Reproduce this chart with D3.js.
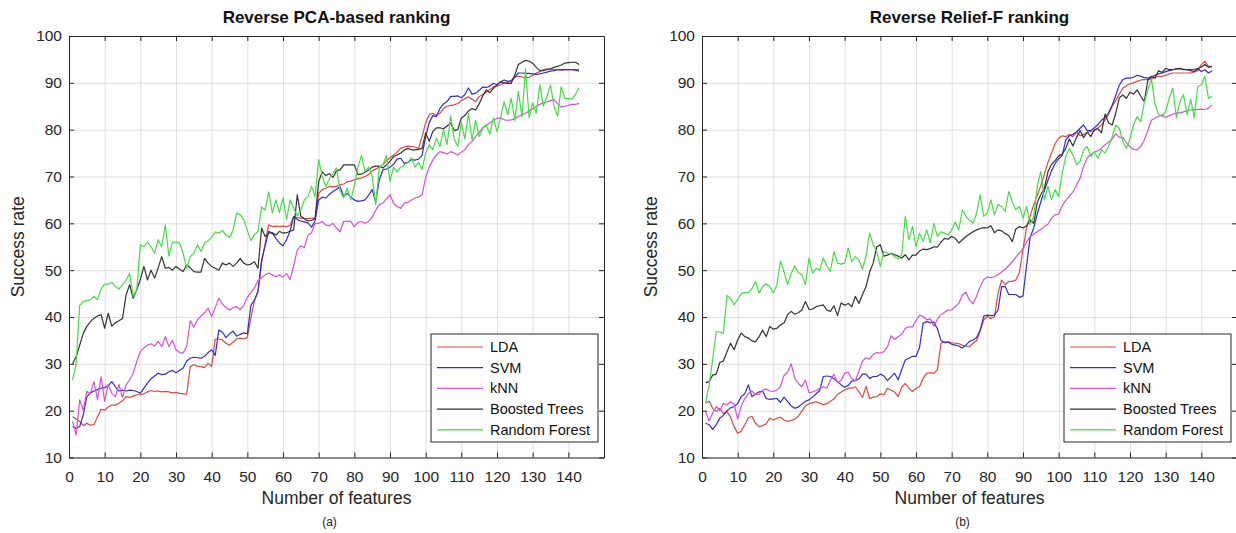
<!DOCTYPE html>
<html>
<head>
<meta charset="utf-8">
<script src="https://cdn.jsdelivr.net/npm/d3@7"></script>
<style>
  html, body { margin: 0; padding: 0; background: #ffffff; }
  svg { display: block; font-family: "Liberation Sans", Arial, Helvetica, sans-serif; }
</style>
</head>
<body>
<svg id="chart" width="1236" height="533"></svg>
<script>
// Number of features used (1..143)
const featureCounts = d3.range(1, 144);
const xTickValues = d3.range(0, 141, 10);
const yTickValues = d3.range(10, 101, 10);
const seriesNames = ["LDA", "SVM", "kNN", "Boosted Trees", "Random Forest"];
const seriesColors = ["#e2463c", "#2e2ed4", "#d84fd8", "#333333", "#45dc45"];

// Success rate (%) — reverse PCA-based ranking
const pcaLDA = [
  18.7, 18.2, 17.7, 16.8, 17.3, 16.9, 17.0, 18.7, 20.3, 20.1,
  20.8, 21.2, 21.2, 21.6, 22.1, 23.0, 22.8, 23.1, 23.4, 23.4,
  23.6, 24.0, 24.3, 24.1, 24.2, 24.0, 24.1, 24.0, 23.8, 23.9,
  23.7, 23.6, 23.5, 29.4, 29.8, 29.5, 29.4, 29.2, 30.1, 29.5,
  35.3, 35.3, 35.1, 34.4, 34.0, 34.6, 35.3, 35.5, 35.3, 35.6,
  39.8, 43.5, 45.5, 51.5, 55.8, 59.7, 59.3, 59.4, 59.3, 59.4,
  59.3, 59.6, 61.4, 61.2, 61.1, 61.0, 61.0, 61.1, 61.1, 66.4,
  67.2, 67.5, 67.9, 67.8, 67.9, 68.2, 68.4, 68.9, 69.0, 69.3,
  69.5, 69.7, 70.0, 70.4, 71.2, 71.6, 72.0, 72.5, 73.4, 74.0,
  74.6, 75.2, 76.0, 76.3, 76.5, 76.4, 76.3, 76.0, 78.5, 81.5,
  83.2, 83.5, 83.0, 83.5, 84.5, 85.0, 85.2, 85.3, 85.6, 86.2,
  86.6, 87.0, 86.5, 86.0, 87.1, 87.5, 88.0, 88.6, 89.1, 89.3,
  89.6, 90.0, 90.1, 90.3, 91.2, 91.4, 91.3, 91.0, 91.2, 91.6,
  92.1, 92.4, 92.8, 93.0, 92.9, 92.8, 92.8, 92.7, 92.8, 92.8,
  92.8, 92.8, 92.8
];
const pcaSVM = [
  16.6, 16.2, 16.6, 19.1, 23.0, 23.8, 24.2, 24.5, 24.8, 24.9,
  25.3, 26.2, 25.1, 24.2, 24.4, 24.2, 24.4, 24.3, 24.1, 23.7,
  24.8, 25.9, 26.8, 27.4, 28.0, 27.7, 27.8, 28.3, 28.6, 28.1,
  28.6, 29.1, 30.6, 31.2, 31.4, 31.3, 31.2, 31.6, 32.4, 33.0,
  31.8, 37.2, 36.8, 35.6, 36.4, 37.0, 35.9, 36.3, 36.6, 36.4,
  42.5, 43.6, 45.5, 52.2, 55.2, 58.3, 57.9, 56.8, 55.8, 55.2,
  56.5, 58.4, 61.5, 60.8, 60.5, 60.3, 60.1, 59.2, 60.5, 65.0,
  65.6, 65.4, 66.2, 66.8, 67.3, 67.8, 65.8, 66.4, 65.6, 65.0,
  64.7, 64.8, 65.0, 66.0, 67.2, 64.5, 69.3, 71.4, 71.6, 72.0,
  72.6, 73.7, 73.9, 72.8, 73.0, 73.6, 73.5, 73.7, 74.5, 78.5,
  81.5, 83.0, 82.8, 84.5, 85.5, 86.0, 87.1, 87.1, 87.2, 86.8,
  87.5, 88.9, 87.6, 87.8, 88.4, 89.1, 89.0, 89.3, 89.9, 89.6,
  90.2, 90.6, 90.3, 90.5, 91.2, 92.1, 92.1, 92.0, 92.0, 91.9,
  91.8, 91.9, 92.1, 92.3, 92.5, 92.6, 92.8, 92.8, 92.8, 92.8,
  92.8, 92.7, 92.5
];
const pcaKNN = [
  17.7, 14.8, 22.3, 20.1, 24.1, 23.7, 26.2, 22.3, 27.2, 22.0,
  25.6, 23.7, 23.0, 25.6, 22.8, 25.5, 26.6, 28.0, 30.5, 32.6,
  33.4, 34.0, 34.3, 33.8, 34.8, 33.7, 35.8, 33.7, 35.0, 33.0,
  32.4, 32.3, 33.7, 39.2, 37.8, 39.4, 40.2, 40.9, 41.9, 40.1,
  42.0, 44.0, 42.8, 42.0, 41.5, 42.0, 42.2, 41.6, 42.5, 44.2,
  45.2, 46.2, 47.8, 48.4, 49.0, 49.4, 49.0, 48.6, 49.0, 48.5,
  49.3, 48.0, 51.0, 54.3, 55.2, 54.8, 57.5, 58.0, 60.0, 60.0,
  60.4, 59.6, 59.5, 60.0, 59.0, 58.2, 60.4, 60.4, 60.4, 59.3,
  60.2, 60.4, 60.0, 60.4, 61.3, 62.8, 64.0, 64.3, 65.2, 66.1,
  64.3, 63.6, 63.2, 64.3, 64.5, 65.0, 65.4, 65.6, 66.1, 69.8,
  72.0, 73.5, 74.6, 75.3, 75.1, 74.8, 75.3, 75.0, 74.6, 75.2,
  75.7, 76.8, 77.5, 78.5, 79.4, 80.4, 81.0, 81.4, 82.0, 82.4,
  82.5, 82.1, 82.0, 82.1, 82.3, 82.8, 83.2, 83.5, 84.0, 84.4,
  85.0, 85.4, 85.7, 85.9, 86.2, 86.4, 85.5, 84.8, 85.0, 85.2,
  85.4, 85.4, 85.6
];
const pcaBoosted = [
  30.0, 31.5, 34.0, 36.5, 38.0, 39.0, 39.7, 40.2, 40.5, 37.6,
  40.8, 38.0, 38.8, 39.2, 39.7, 44.7, 46.9, 44.0, 45.8, 48.0,
  50.8, 47.9, 50.0, 48.3, 50.5, 52.9, 50.4, 50.6, 50.0, 50.8,
  50.2, 49.7, 51.1, 50.5, 49.7, 49.6, 49.6, 52.5, 51.5, 50.8,
  50.4, 50.0, 51.5, 51.1, 51.5, 50.8, 51.5, 52.5, 51.5, 51.1,
  51.3, 51.8, 50.4, 59.0, 57.2, 57.9, 58.0, 57.5, 58.3, 57.9,
  58.0, 58.3, 58.6, 66.1, 61.5, 61.0, 60.5, 60.6, 61.0, 68.9,
  71.0, 70.2, 70.6, 69.8, 71.2, 71.4, 72.5, 72.5, 72.5, 72.5,
  70.4, 70.5, 70.9, 71.4, 72.0, 72.2, 72.2, 71.8, 72.5, 73.3,
  74.2, 74.6, 75.0, 75.6, 76.0, 75.7, 75.7, 75.8, 76.0, 79.3,
  77.5, 79.6, 80.4, 80.4, 80.2, 80.8, 81.4, 79.8, 80.0, 82.5,
  83.0, 84.0, 84.5, 84.2, 85.5, 87.2, 88.5, 87.9, 88.8, 89.6,
  90.2, 90.0, 89.9, 89.9, 91.7, 93.9, 94.4, 94.8, 94.6, 94.2,
  93.3, 92.6, 92.6, 92.8, 93.0, 93.3, 93.5, 93.8, 94.2, 94.3,
  94.4, 94.4, 93.9
];
const pcaForest = [
  26.5, 30.0, 42.5, 43.3, 43.5, 43.7, 44.4, 43.7, 46.0, 47.0,
  47.0, 47.4, 46.5, 46.0, 46.9, 47.9, 49.3, 44.4, 45.8, 55.4,
  55.0, 56.0, 55.0, 53.6, 56.5, 55.0, 59.7, 53.0, 56.0, 56.0,
  55.8, 53.6, 50.4, 52.9, 53.6, 55.4, 54.0, 55.8, 56.3, 57.0,
  58.2, 57.9, 58.5, 57.5, 57.0, 58.5, 62.2, 61.8, 60.8, 58.5,
  56.3, 57.6, 58.3, 63.5, 62.8, 66.7, 62.2, 65.0, 62.3, 65.5,
  60.8, 65.0, 63.2, 61.6, 62.8, 65.0, 65.7, 67.9, 65.7, 73.6,
  70.0, 67.9, 69.5, 70.7, 71.8, 67.0, 65.4, 67.5, 65.0, 68.0,
  72.0, 74.5, 71.0, 72.0, 70.0, 64.0, 72.0, 72.5, 74.5, 69.0,
  72.0, 71.0, 72.0, 72.5, 73.0, 74.0, 72.0, 73.0, 71.5, 75.0,
  76.8, 75.7, 78.2, 76.4, 80.0, 76.8, 83.0, 78.0, 76.4, 81.5,
  78.0, 83.5, 77.8, 82.0, 78.5, 80.3, 81.0, 79.0, 82.5, 79.6,
  82.5, 86.0, 83.2, 86.7, 82.0, 88.2, 82.8, 93.0, 82.5, 85.7,
  83.5, 89.6, 85.0, 87.1, 89.5, 85.0, 82.8, 89.2, 86.7, 86.7,
  86.5, 87.5, 89.0
];

// Success rate (%) — reverse Relief-F ranking
const reliefLDA = [
  21.6, 22.0, 20.5, 19.8, 20.5, 19.4, 19.8, 18.6, 16.6, 15.2,
  15.6, 17.0, 18.5, 18.8, 17.3, 16.6, 16.8, 17.2, 18.4, 18.0,
  18.4, 18.6, 18.0, 17.7, 17.9, 18.2, 18.8, 19.9, 21.0, 21.5,
  21.7, 21.9, 21.6, 21.3, 21.5, 22.0, 22.5, 23.5, 24.0, 24.4,
  24.8, 24.8, 25.1, 24.0, 22.8, 25.2, 22.6, 22.9, 23.0, 23.6,
  23.4, 24.8, 24.4, 24.0, 23.0, 25.0, 25.8, 24.8, 24.1, 24.8,
  25.1, 26.9, 28.0, 28.1, 28.0, 28.7, 34.4, 34.7, 34.7, 34.5,
  34.4, 34.3, 34.0, 33.8, 33.7, 34.4, 35.0, 37.0, 39.4, 40.1,
  39.7, 40.1, 45.0, 47.9, 46.9, 47.6, 47.6, 47.9, 49.5, 54.5,
  59.0, 61.5, 64.0, 66.0, 68.0, 70.5, 73.0, 75.0, 77.0, 78.2,
  78.7, 78.5, 79.0, 78.5, 79.5, 78.7, 79.0, 79.4, 79.6, 79.8,
  80.4, 81.0, 82.0, 83.3, 85.0, 86.2, 87.6, 88.9, 89.4, 89.8,
  90.0, 90.3, 90.6, 90.7, 90.7, 90.9, 91.2, 91.4, 91.4, 91.6,
  91.9, 92.1, 92.1, 92.1, 92.1, 92.1, 92.1, 92.3, 92.6, 93.9,
  94.6, 93.5, 93.5
];
const reliefSVM = [
  17.3, 17.0, 16.0, 17.0, 18.4, 19.0, 20.0, 20.6, 20.9, 21.5,
  23.0, 23.6, 25.5, 23.0, 23.5, 24.0, 24.2, 22.6, 22.4, 22.5,
  22.6, 21.8, 22.9, 22.0, 21.0, 20.5, 20.8, 21.4, 22.0, 22.3,
  22.9, 23.6, 24.3, 27.3, 27.4, 27.3, 26.8, 26.2, 25.5, 25.0,
  25.4, 26.3, 26.4, 26.8, 27.8, 27.8, 26.9, 27.3, 27.3, 27.8,
  27.4, 26.4, 27.2, 28.0, 26.6, 28.8, 30.8, 31.2, 31.6, 31.6,
  33.5, 38.7, 39.0, 38.8, 38.9, 37.5, 35.0, 34.5, 34.6, 34.2,
  34.0, 33.8, 33.4, 34.0, 34.8, 35.1, 35.6, 37.2, 40.2, 40.4,
  40.3, 40.4, 41.5, 46.5, 46.5, 44.8, 44.8, 44.8, 44.2, 44.5,
  51.0, 57.0, 59.0, 62.0, 64.6, 67.0, 69.2, 71.2, 72.8, 73.8,
  74.5, 77.8, 78.7, 79.0, 79.5, 80.3, 81.0, 79.8, 79.8, 80.4,
  81.1, 82.0, 82.6, 83.6, 85.2, 87.3, 89.5, 90.7, 91.0, 91.0,
  91.2, 91.6, 91.4, 91.1, 91.0, 91.3, 91.6, 91.9, 92.1, 92.4,
  92.6, 92.8, 93.0, 93.0, 92.9, 92.8, 92.8, 92.9, 93.0, 92.4,
  92.8, 92.1, 92.6
];
const reliefKNN = [
  19.8, 17.8, 19.5, 20.9, 20.0, 21.5, 21.2, 21.9, 21.4, 18.2,
  21.0, 22.6, 23.6, 24.2, 23.4, 23.4, 24.4, 24.6, 24.2, 24.1,
  24.4, 25.2, 27.5, 28.2, 30.0, 27.0, 25.8, 25.1, 26.5, 23.8,
  24.0, 24.3, 24.8, 25.1, 24.8, 26.5, 27.8, 26.0, 26.5, 28.0,
  28.2, 26.8, 26.4, 28.5, 30.6, 31.3, 31.0, 32.0, 32.4, 32.3,
  32.6, 33.6, 36.0, 35.2, 35.8, 36.3, 37.6, 37.9, 37.9, 39.2,
  40.4, 40.1, 39.4, 39.6, 38.0, 39.5, 40.5, 41.0, 41.5, 41.5,
  42.2, 42.9, 44.7, 45.3, 43.6, 42.8, 44.5, 46.5, 48.0, 48.5,
  48.4, 48.6, 49.1, 49.6, 50.2, 51.0, 51.8, 52.8, 53.7, 54.5,
  56.0, 57.2, 57.7, 58.2, 58.7, 59.3, 59.8, 61.1, 61.8, 62.0,
  63.8, 64.9, 65.8, 66.7, 68.2, 69.6, 72.2, 74.0, 74.7, 75.2,
  75.5, 76.0, 76.8, 77.3, 78.0, 79.1, 78.4, 78.3, 77.2, 76.3,
  75.8, 75.7, 76.4, 77.8, 79.8, 82.0, 82.5, 82.8, 83.2, 82.6,
  83.0, 83.3, 83.6, 83.6, 83.8, 84.0, 84.2, 84.3, 84.3, 84.4,
  84.3, 84.6, 85.2
];
const reliefBoosted = [
  26.0, 26.2, 27.6, 27.8, 30.3, 30.6, 32.6, 34.4, 33.0, 35.1,
  36.6, 35.8, 35.5, 34.9, 34.7, 35.8, 37.2, 35.8, 38.0, 37.4,
  37.6, 38.3, 38.7, 40.5, 41.2, 40.6, 40.9, 41.5, 43.3, 41.6,
  41.7, 42.2, 42.4, 42.6, 41.5, 41.2, 42.4, 40.3, 43.0, 42.5,
  42.9, 42.2, 44.4, 42.9, 44.8, 46.5, 49.6, 51.5, 55.0, 55.4,
  53.0, 53.2, 53.6, 53.3, 53.0, 52.6, 53.3, 52.2, 53.2, 53.2,
  54.1, 54.5, 54.4, 54.6, 55.0, 54.9, 56.0, 56.8, 56.6, 57.2,
  56.8, 55.8, 56.5, 57.2, 57.7, 58.2, 58.6, 58.9, 59.1, 59.0,
  59.5, 58.0, 58.6, 58.4, 57.8, 57.4, 56.1, 58.8, 59.3, 59.0,
  59.5, 60.7, 60.0, 64.5, 66.1, 67.5, 71.0, 72.6, 73.4, 74.4,
  74.8, 76.0, 78.0, 76.5, 78.3, 79.8, 78.3, 79.5, 78.5, 80.0,
  80.2, 79.3, 83.3, 81.5, 81.0, 83.5, 86.8, 87.4, 86.7, 88.0,
  87.6, 88.5, 87.2, 86.0, 90.5, 91.4, 91.0, 92.6, 92.2, 93.1,
  92.8, 92.8, 93.0, 93.1, 92.8, 92.8, 92.6, 92.4, 93.0, 93.4,
  93.9, 93.3, 93.5
];
const reliefForest = [
  21.6, 25.5, 31.0, 36.9, 36.8, 36.5, 44.6, 44.0, 42.6, 43.8,
  45.0, 45.2, 45.2, 46.1, 47.6, 45.1, 46.5, 47.1, 46.5, 45.1,
  46.9, 52.0, 49.7, 46.9, 49.3, 50.9, 49.5, 49.0, 46.9, 52.6,
  49.3, 50.4, 50.0, 52.6, 51.0, 49.7, 54.0, 51.5, 51.3, 51.5,
  54.7, 51.8, 52.9, 52.2, 50.2, 53.0, 57.9, 55.4, 54.0, 50.8,
  54.0, 53.6, 53.5, 52.9, 52.4, 53.3, 61.5, 56.5, 59.3, 55.0,
  57.9, 56.1, 58.6, 55.8, 60.0, 57.2, 58.2, 57.9, 57.5, 58.6,
  60.3, 58.6, 62.9, 61.5, 60.7, 60.0, 62.2, 66.1, 61.5, 62.2,
  65.0, 61.8, 64.0, 63.6, 62.5, 66.8, 64.5, 62.9, 63.6, 61.1,
  63.6, 59.7, 61.5, 67.9, 71.1, 65.0, 67.9, 65.0, 67.2, 65.7,
  70.7, 74.3, 76.0, 74.6, 72.5, 73.2, 75.7, 76.4, 74.3, 75.3,
  73.9, 75.7, 75.0, 76.4, 78.5, 81.0, 80.3, 77.5, 76.0, 78.2,
  81.0, 82.8, 81.7, 85.7, 88.5, 90.8, 85.5, 83.3, 82.8, 83.9,
  86.7, 88.9, 82.5, 86.0, 87.5, 83.2, 86.5, 82.5, 89.2, 89.6,
  91.4, 86.7, 87.1
];

const panels = [
  { title: "Reverse PCA-based ranking", tag: "(a)", left: 69, right: 604,
    series: [pcaLDA, pcaSVM, pcaKNN, pcaBoosted, pcaForest] },
  { title: "Reverse Relief-F ranking", tag: "(b)", left: 702, right: 1237,
    series: [reliefLDA, reliefSVM, reliefKNN, reliefBoosted, reliefForest] }
];

const plotTop = 36, plotBottom = 457.5;
const axisColor = "#262626";
const gridColor = "#dedede";
const svg = d3.select("#chart");

panels.forEach(p => {
  const x = d3.scaleLinear().domain([0, 150]).range([p.left, p.right]);
  const y = d3.scaleLinear().domain([10, 100]).range([plotBottom, plotTop]);
  const plotW = p.right - p.left, plotH = plotBottom - plotTop;
  const g = svg.append("g");

  // grid
  g.append("g")
    .attr("transform", `translate(0,${plotBottom})`)
    .call(d3.axisBottom(x).tickValues(xTickValues).tickSize(-plotH).tickFormat(""))
    .call(s => s.select(".domain").remove())
    .call(s => s.selectAll("line").attr("stroke", gridColor).attr("stroke-width", 1));
  g.append("g")
    .attr("transform", `translate(${p.left},0)`)
    .call(d3.axisLeft(y).tickValues(yTickValues).tickSize(-plotW).tickFormat(""))
    .call(s => s.select(".domain").remove())
    .call(s => s.selectAll("line").attr("stroke", gridColor).attr("stroke-width", 1));

  // series lines
  const line = d3.line()
    .x((d, i) => x(featureCounts[i]))
    .y(d => y(d));
  p.series.forEach((vals, k) => {
    g.append("path")
      .datum(vals)
      .attr("fill", "none")
      .attr("stroke", seriesColors[k])
      .attr("stroke-width", 1.2)
      .attr("stroke-linejoin", "round")
      .attr("d", line);
  });

  // axes box with inward ticks
  const styleAxis = s => {
    s.select(".domain").attr("stroke", axisColor).attr("stroke-width", 1);
    s.selectAll(".tick line").attr("stroke", axisColor);
    s.selectAll("text").attr("fill", axisColor).style("font-size", "15.5px")
      .style("font-family", "'Liberation Sans', Arial, sans-serif");
  };
  g.append("g")
    .attr("transform", `translate(0,${plotBottom})`)
    .call(d3.axisBottom(x).tickValues(xTickValues).tickSize(-5).tickSizeOuter(0).tickPadding(13))
    .call(styleAxis);
  g.append("g")
    .attr("transform", `translate(0,${plotTop})`)
    .call(d3.axisTop(x).tickValues(xTickValues).tickSize(-5).tickSizeOuter(0).tickFormat(""))
    .call(styleAxis);
  g.append("g")
    .attr("transform", `translate(${p.left},0)`)
    .call(d3.axisLeft(y).tickValues(yTickValues).tickSize(-5).tickSizeOuter(0).tickPadding(7))
    .call(styleAxis);
  g.append("g")
    .attr("transform", `translate(${p.right},0)`)
    .call(d3.axisRight(y).tickValues(yTickValues).tickSize(-5).tickSizeOuter(0).tickFormat(""))
    .call(styleAxis);

  // titles and labels
  const cx = (p.left + p.right) / 2;
  g.append("text").attr("x", cx).attr("y", 23).attr("text-anchor", "middle")
    .attr("font-weight", "bold").attr("font-size", 17).attr("fill", "#111")
    .text(p.title);
  g.append("text").attr("x", cx).attr("y", 504).attr("text-anchor", "middle")
    .attr("font-size", 17.5).attr("fill", axisColor).text("Number of features");
  g.append("text")
    .attr("transform", `translate(${p.left - 45},${(plotTop + plotBottom) / 2}) rotate(-90)`)
    .attr("text-anchor", "middle").attr("font-size", 17.5).attr("fill", axisColor)
    .text("Success rate");
  g.append("text").attr("x", cx - 7).attr("y", 526).attr("text-anchor", "middle")
    .attr("font-size", 12).attr("fill", "#222").text(p.tag);

  // legend
  const lw = 167, lh = 108;
  const lx = p.right - 6 - lw, ly = plotBottom - 15.5 - lh;
  const lg = g.append("g").attr("transform", `translate(${lx},${ly})`);
  lg.append("rect").attr("width", lw).attr("height", lh)
    .attr("fill", "#fff").attr("stroke", axisColor).attr("stroke-width", 1);
  seriesNames.forEach((name, k) => {
    const ry = 13 + k * 20.7;
    lg.append("line").attr("x1", 6).attr("x2", 52).attr("y1", ry).attr("y2", ry)
      .attr("stroke", seriesColors[k]).attr("stroke-width", 1.2);
    lg.append("text").attr("x", 59).attr("y", ry + 5).attr("font-size", 14.5)
      .attr("fill", "#111").text(name);
  });
});
</script>
</body>
</html>
